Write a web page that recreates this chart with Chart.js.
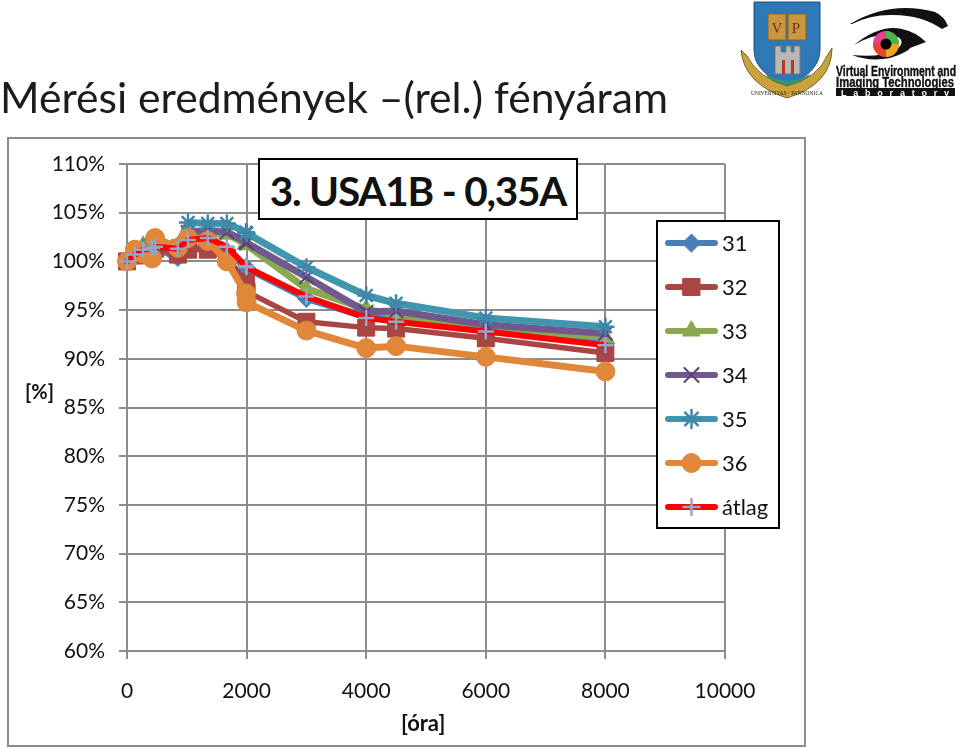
<!DOCTYPE html>
<html lang="hu">
<head>
<meta charset="utf-8">
<title>Mérési eredmények</title>
<script src="https://cdn.jsdelivr.net/npm/chart.js@4/dist/chart.umd.js"></script>
<style>
  html, body { margin: 0; padding: 0; background: #fff; }
  body { width: 960px; height: 748px; position: relative; overflow: hidden; font-family: Lato, "Open Sans", sans-serif; color: #111; }
  #myChart { position: absolute; left: 0; top: 0; }
  #slideTitle { position: absolute; left: 0; top: 72px; font-size: 42.6px; line-height: 50px; white-space: nowrap; color: #1c1c1c; }
  #frame { position: absolute; left: 7px; top: 137px; width: 795px; height: 606px; border: 2px solid #8c8c8c; }
  #boxTitle { position: absolute; left: 258px; top: 158px; width: 316px; height: 58px; border: 2px solid #000; background: #fff;
    font-weight: 700; font-size: 40.5px; letter-spacing: -1.2px; line-height: 62px; text-align: center; white-space: nowrap; }
  #yUnit { position: absolute; left: 25px; top: 378px; font-weight: 700; font-size: 20px; line-height: 26px; }
  #xUnit { position: absolute; left: 401px; top: 710px; font-weight: 700; font-size: 22px; line-height: 26px; }
  #logos { position: absolute; left: 730px; top: 0; }
</style>
</head>
<body>
<canvas id="myChart" width="960" height="748"></canvas>
<div id="frame"></div>
<div id="slideTitle">Mérési eredmények –(rel.) fényáram</div>
<div id="boxTitle">3. USA1B - 0,35A</div>
<div id="yUnit">[%]</div>
<div id="xUnit">[óra]</div>
<svg id="logos" width="230" height="110" viewBox="0 0 230 110">
  <!-- university crest -->
  <path d="M24 2H90V50Q90 72 57 86Q24 72 24 50Z" fill="#2f78b8" stroke="#1d4f86"/>
  <path d="M38 14H56V40H38ZM58 14H76V40H58Z" fill="#c9973f" stroke="#8a6420"/>
  <text x="47" y="33" font-family="Liberation Serif" font-size="15" fill="#7a2a18" text-anchor="middle">V</text>
  <text x="66" y="33" font-family="Liberation Serif" font-size="15" fill="#7a2a18" text-anchor="middle">P</text>
  <path d="M45 46h6v6h5v-6h5v6h3v-6h6v28H45Z" fill="#b9b9b4" stroke="#777"/>
  <path d="M52 60h3v14h-3ZM61 60h3v14h-3Z" fill="#b8342c"/>
  <path d="M36 74Q57 88 80 74L78 78Q57 92 38 78Z" fill="#2e9a6e"/>
  <path d="M11 50L17 56Q28 78 57 86Q88 78 97 56L102 48Q102 84 57 98Q14 84 11 50Z" fill="#c9a23e" stroke="#7a6020"/>
  <text x="57" y="95" font-family="Liberation Serif" font-size="5.5" fill="#2b1e08" text-anchor="middle">UNIVERSITAS · PANNONICA</text>
  <!-- eye logo -->
  <path d="M120 24Q160 0 205 12Q214 16 218 26L212 29Q190 14 160 15Q140 15 122 24Z" fill="#111"/>
  <path d="M124 45Q150 24 172 29Q186 32 196 42L180 48Q178 52 160 58Q140 62 122 55Q150 58 166 50Q176 42 168 37Q150 30 124 45Z" fill="#111"/>
  <circle cx="156" cy="44" r="13" fill="#e83f8e"/>
  <path d="M156 44L156 31A13 13 0 0 1 169 44Z" fill="#48b848"/>
  <path d="M156 44L169 44A13 13 0 0 1 156 57Z" fill="#f2a51f"/>
  <path d="M156 44L156 57A13 13 0 0 1 143 44Z" fill="#e4452c"/>
  <circle cx="156" cy="44" r="5.5" fill="#000"/>
  <text x="106" y="76" font-family="Liberation Sans" font-weight="700" font-size="14" stroke="#111" stroke-width=".4" fill="#111" textLength="120" lengthAdjust="spacingAndGlyphs">Virtual Environment and</text>
  <text x="106" y="87" font-family="Liberation Sans" font-weight="700" font-size="14" stroke="#111" stroke-width=".4" fill="#111" textLength="118" lengthAdjust="spacingAndGlyphs">Imaging Technologies</text>
  <rect x="106" y="88" width="119" height="8" fill="#111"/>
  <text x="165" y="95.5" font-family="Liberation Sans" font-weight="700" font-size="9" fill="#fff" text-anchor="middle" textLength="108">Laboratory</text>
</svg>
<script>
// hours (two readings close to 2000)
const hours = [0, 130, 270, 420, 470, 850, 1020, 1350, 1670, 1990, 2000, 3000, 4000, 4500, 6000, 8000];

// relative luminous flux in %, one list per sample
const s31 = [100, 100.7, 101.2, 101.4, 101.4, 100.4, 101.4, 101.4, 101, 99.4, 99.3, 96.2, 94.3, 94, 93, 91.6];
const s32 = [100, 100.6, 100.9, 101.2, 101.3, 100.7, 101.2, 101.2, 100.4, 97.9, 96.9, 93.8, 93.2, 93.1, 92.1, 90.6];
const s33 = [100, 100.8, 101.6, 102, 102.3, 101.5, 102.8, 102.9, 102.8, 101.8, 101.7, 97.2, 95.1, 94.5, 93.2, 92.2];
const s34 = [100, 100.7, 101.3, 101.6, 101.7, 101.4, 103, 103.2, 103, 102, 101.9, 98.4, 94.8, 94.9, 93.5, 92.6];
const s35 = [100, 100.9, 101.4, 101.6, 101.8, 101.6, 104, 103.9, 103.9, 103, 102.9, 99.4, 96.5, 95.7, 94.2, 93.3];
const s36 = [100, 101.2, 100.8, 100.3, 102.4, 101.4, 102.4, 102.1, 100, 96.7, 95.8, 92.9, 91.1, 91.3, 90.2, 88.7];
const avg = [100, 100.7, 101.2, 101.4, 101.5, 101.3, 102.2, 102.4, 101.5, 99.5, 99.4, 96.4, 94.2, 93.8, 92.8, 91.4];

const toPoints = vals => vals.map((v, i) => ({ x: hours[i], y: v }));

function series(label, vals, color, marker, radius, order, extra) {
  return Object.assign({
    label: label,
    data: toPoints(vals),
    borderColor: color,
    backgroundColor: color,
    borderWidth: 7,
    borderCapStyle: 'round',
    borderJoinStyle: 'round',
    pointStyle: marker,
    pointRadius: radius,
    pointBackgroundColor: color,
    pointBorderColor: color,
    pointBorderWidth: 1,
    tension: 0,
    clip: false,
    order: order
  }, extra);
}

// Legend box with line + marker samples, the built-in legend can't draw those
const legendBox = {
  id: 'legendBox',
  afterDraw(chart) {
    const ctx = chart.ctx;
    ctx.save();
    ctx.fillStyle = '#fff';
    ctx.strokeStyle = '#000';
    ctx.lineWidth = 2;
    ctx.fillRect(657, 221, 122, 307);
    ctx.strokeRect(657, 221, 122, 307);
    chart.data.datasets.forEach((ds, i) => {
      const y = 243 + i * 44;
      ctx.strokeStyle = ds.borderColor;
      ctx.lineWidth = 6;
      ctx.lineCap = 'round';
      ctx.beginPath();
      ctx.moveTo(668, y);
      ctx.lineTo(715, y);
      ctx.stroke();
      ctx.fillStyle = ds.pointBackgroundColor;
      ctx.strokeStyle = ds.pointBorderColor;
      ctx.lineWidth = ds.pointBorderWidth;
      Chart.helpers.drawPoint(ctx, { pointStyle: ds.pointStyle, radius: ds.pointRadius, borderWidth: ds.pointBorderWidth }, 691.5, y);
      ctx.fillStyle = '#111';
      ctx.font = '22px Lato';
      ctx.textAlign = 'left';
      ctx.textBaseline = 'middle';
      ctx.fillText(ds.label, 722, y + 1);
    });
    ctx.restore();
  }
};

const gridColor = '#8c8c8c';
const canvas = document.getElementById('myChart');
const chart = new Chart(canvas.getContext('2d'), {
  type: 'line',
  data: {
    datasets: [
      series('31', s31, '#4a7ebb', 'rectRot', 9, 7),
      series('32', s32, '#a94643', 'rect', 12, 6, { borderWidth: 5.5 }),
      series('33', s33, '#8aa84f', 'triangle', 10, 5),
      series('34', s34, '#71588f', 'crossRot', 10, 4, { pointBorderColor: '#5a4378', pointBorderWidth: 2 }),
      series('35', s35, '#3f96ae', 'star', 9, 3, { pointBorderColor: '#3f86a8', pointBorderWidth: 2.5 }),
      series('36', s36, '#e0873a', 'circle', 9.5, 2),
      series('átlag', avg, '#ff0000', 'cross', 8, 1, { borderWidth: 6, pointBorderColor: '#93a6cc', pointBorderWidth: 2.5 })
    ]
  },
  options: {
    responsive: false,
    animation: false,
    layout: { padding: { left: 0, right: 235, top: 164, bottom: 0 } },
    plugins: { legend: { display: false }, tooltip: { enabled: false } },
    scales: {
      x: {
        type: 'linear',
        min: 0,
        max: 10000,
        afterFit: s => { s.height = 97; },
        afterTickToLabelConversion: s => { s.ticks.forEach(t => { t.label = String(t.value); }); },
        ticks: { stepSize: 2000, maxRotation: 0, padding: 20, color: '#111', font: { family: 'Lato', size: 21 } },
        grid: { color: gridColor, lineWidth: 2, tickLength: 8 },
        border: { color: gridColor, width: 2 }
      },
      y: {
        min: 60,
        max: 110,
        afterFit: s => { s.width = 127; },
        ticks: { stepSize: 5, padding: 14, color: '#111', callback: v => v + '%', font: { family: 'Lato', size: 21 } },
        grid: { color: gridColor, lineWidth: 2, tickLength: 8 },
        border: { color: gridColor, width: 2 }
      }
    }
  },
  plugins: [legendBox]
});
</script>
</body>
</html>
